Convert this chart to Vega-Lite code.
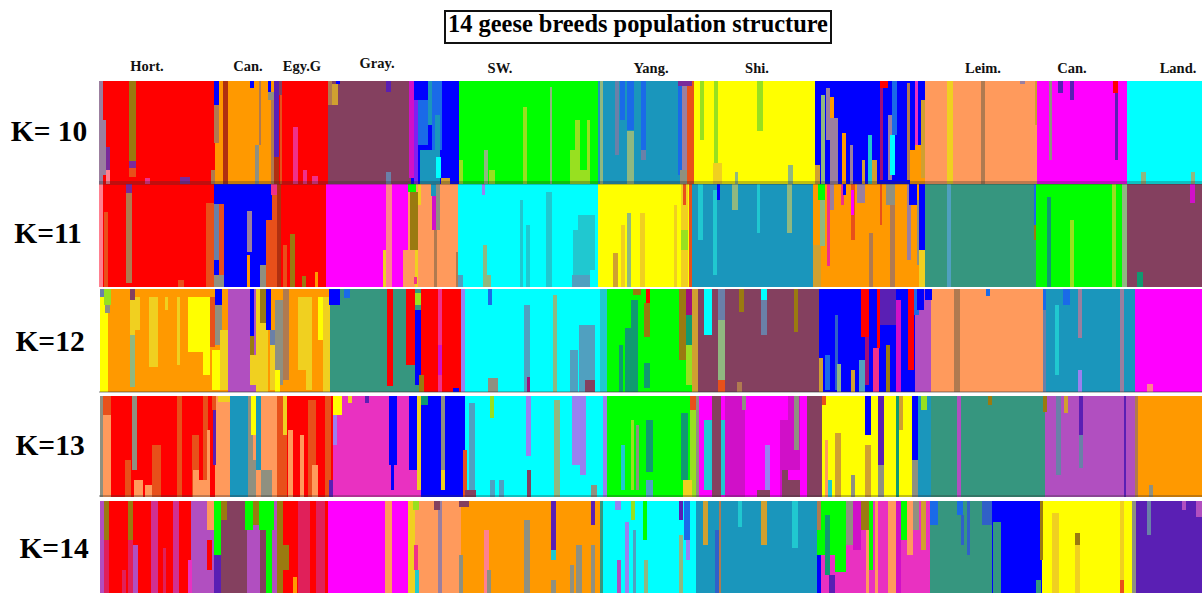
{"$schema":"https://vega.github.io/schema/vega-lite/v6.json","width":1202,"height":593,"padding":0,"autosize":{"type":"none"},"background":"white","config":{"view":{"stroke":null}},
"datasets":{"bars":[
{"K":10,"x":99,"x2":103,"y":81,"y2":184,"c":"gmv"},{"K":10,"x":103,"x2":215,"y":81,"y2":184,"c":"red"},{"K":10,"x":215,"x2":274,"y":81,"y2":184,"c":"org"},{"K":10,"x":274,"x2":328,"y":81,"y2":184,"c":"red"},{"K":10,"x":328,"x2":411,"y":81,"y2":184,"c":"mau"},{"K":10,"x":411,"x2":459,"y":81,"y2":184,"c":"blu"},{"K":10,"x":459,"x2":598,"y":81,"y2":184,"c":"grn"},{"K":10,"x":598,"x2":692,"y":81,"y2":184,"c":"stl"},{"K":10,"x":692,"x2":815,"y":81,"y2":184,"c":"yel"},{"K":10,"x":815,"x2":925,"y":81,"y2":184,"c":"blu"},{"K":10,"x":925,"x2":1037,"y":81,"y2":184,"c":"pch"},{"K":10,"x":1037,"x2":1127,"y":81,"y2":184,"c":"mag"},{"K":10,"x":1127,"x2":1202,"y":81,"y2":184,"c":"cya"},
{"K":10,"x":129,"x2":136,"y":81,"y2":161,"c":"olv"},{"K":10,"x":129,"x2":136,"y":161,"y2":168,"c":"prp"},{"K":10,"x":129,"x2":136,"y":168,"y2":177,"c":"dor"},{"K":10,"x":103,"x2":106,"y":120,"y2":175,"c":"gmv"},{"K":10,"x":106,"x2":110,"y":147,"y2":170,"c":"prp"},{"K":10,"x":106,"x2":110,"y":170,"y2":184,"c":"sal"},{"K":10,"x":145,"x2":150,"y":178,"y2":184,"c":"hpk"},{"K":10,"x":180,"x2":190,"y":177,"y2":184,"c":"prp"},
{"K":10,"x":214,"x2":219,"y":81,"y2":105,"c":"blu"},{"K":10,"x":214,"x2":219,"y":105,"y2":143,"c":"brn"},{"K":10,"x":211,"x2":215,"y":170,"y2":184,"c":"brn"},{"K":10,"x":223,"x2":228,"y":81,"y2":184,"c":"dkr"},{"K":10,"x":250,"x2":254,"y":81,"y2":88,"c":"blu"},{"K":10,"x":255,"x2":259,"y":145,"y2":184,"c":"gry"},{"K":10,"x":259,"x2":261,"y":81,"y2":145,"c":"brn"},{"K":10,"x":268,"x2":271,"y":81,"y2":92,"c":"blu"},{"K":10,"x":268,"x2":274,"y":92,"y2":100,"c":"gry"},{"K":10,"x":271,"x2":274,"y":100,"y2":184,"c":"brn"},{"K":10,"x":274,"x2":279,"y":81,"y2":157,"c":"ind"},{"K":10,"x":274,"x2":279,"y":157,"y2":184,"c":"dkr"},{"K":10,"x":279,"x2":282,"y":81,"y2":95,"c":"mau"},{"K":10,"x":280,"x2":282,"y":95,"y2":184,"c":"dor"},{"K":10,"x":293,"x2":298,"y":127,"y2":184,"c":"hpk"},{"K":10,"x":303,"x2":307,"y":170,"y2":184,"c":"hpk"},{"K":10,"x":312,"x2":318,"y":176,"y2":184,"c":"hpk"},
{"K":10,"x":328,"x2":332,"y":81,"y2":105,"c":"brn"},{"K":10,"x":332,"x2":338,"y":84,"y2":105,"c":"gol"},{"K":10,"x":336,"x2":340,"y":81,"y2":84,"c":"blu"},{"K":10,"x":386,"x2":391,"y":81,"y2":92,"c":"ind"},{"K":10,"x":386,"x2":391,"y":172,"y2":184,"c":"slt"},{"K":10,"x":409,"x2":414,"y":81,"y2":178,"c":"dmg"},{"K":10,"x":414,"x2":418,"y":100,"y2":184,"c":"plb"},{"K":10,"x":418,"x2":428,"y":100,"y2":145,"c":"ldb"},{"K":10,"x":428,"x2":432,"y":81,"y2":125,"c":"stl"},{"K":10,"x":432,"x2":442,"y":81,"y2":150,"c":"ldb"},{"K":10,"x":420,"x2":435,"y":150,"y2":184,"c":"stl"},{"K":10,"x":435,"x2":440,"y":115,"y2":184,"c":"stl"},{"K":10,"x":436,"x2":441,"y":157,"y2":178,"c":"cya"},{"K":10,"x":441,"x2":450,"y":178,"y2":184,"c":"gol"},
{"K":10,"x":459,"x2":463,"y":160,"y2":184,"c":"lim"},{"K":10,"x":484,"x2":488,"y":150,"y2":184,"c":"sag"},{"K":10,"x":489,"x2":495,"y":170,"y2":184,"c":"lim"},{"K":10,"x":523,"x2":527,"y":107,"y2":184,"c":"lim"},{"K":10,"x":550,"x2":552,"y":87,"y2":184,"c":"sag"},{"K":10,"x":570,"x2":575,"y":150,"y2":184,"c":"lim"},{"K":10,"x":575,"x2":580,"y":120,"y2":184,"c":"lim"},{"K":10,"x":587,"x2":590,"y":120,"y2":184,"c":"lim"},{"K":10,"x":580,"x2":587,"y":170,"y2":184,"c":"lim"},
{"K":10,"x":600,"x2":603,"y":81,"y2":184,"c":"sag"},{"K":10,"x":615,"x2":619,"y":81,"y2":155,"c":"slt"},{"K":10,"x":620,"x2":625,"y":81,"y2":120,"c":"ldb"},{"K":10,"x":627,"x2":634,"y":81,"y2":130,"c":"ldb"},{"K":10,"x":627,"x2":634,"y":131,"y2":184,"c":"sag"},{"K":10,"x":641,"x2":646,"y":81,"y2":150,"c":"ldb"},{"K":10,"x":641,"x2":646,"y":150,"y2":160,"c":"slt"},{"K":10,"x":678,"x2":683,"y":81,"y2":175,"c":"ldb"},{"K":10,"x":682,"x2":687,"y":85,"y2":170,"c":"gmv"},{"K":10,"x":680,"x2":687,"y":170,"y2":184,"c":"gry"},{"K":10,"x":687,"x2":694,"y":81,"y2":184,"c":"dor"},{"K":10,"x":678,"x2":692,"y":81,"y2":86,"c":"prp"},
{"K":10,"x":700,"x2":704,"y":81,"y2":140,"c":"lim"},{"K":10,"x":714,"x2":718,"y":81,"y2":170,"c":"lim"},{"K":10,"x":713,"x2":722,"y":163,"y2":184,"c":"gld"},{"K":10,"x":757,"x2":763,"y":81,"y2":131,"c":"lim"},{"K":10,"x":788,"x2":793,"y":165,"y2":184,"c":"sag"},{"K":10,"x":735,"x2":738,"y":172,"y2":184,"c":"sag"},
{"K":10,"x":815,"x2":820,"y":165,"y2":184,"c":"gol"},{"K":10,"x":821,"x2":825,"y":95,"y2":184,"c":"sag"},{"K":10,"x":826,"x2":830,"y":88,"y2":140,"c":"gmv"},{"K":10,"x":830,"x2":834,"y":97,"y2":120,"c":"org"},{"K":10,"x":830,"x2":838,"y":118,"y2":184,"c":"gmv"},{"K":10,"x":842,"x2":846,"y":133,"y2":184,"c":"org"},{"K":10,"x":850,"x2":853,"y":145,"y2":184,"c":"gmv"},{"K":10,"x":862,"x2":865,"y":160,"y2":184,"c":"gol"},{"K":10,"x":868,"x2":872,"y":135,"y2":184,"c":"tcy"},{"K":10,"x":872,"x2":877,"y":160,"y2":184,"c":"gol"},{"K":10,"x":880,"x2":883,"y":81,"y2":180,"c":"crm"},{"K":10,"x":880,"x2":888,"y":81,"y2":88,"c":"red"},{"K":10,"x":888,"x2":892,"y":115,"y2":180,"c":"gmv"},{"K":10,"x":892,"x2":897,"y":81,"y2":135,"c":"ldb"},{"K":10,"x":890,"x2":895,"y":135,"y2":175,"c":"cya"},{"K":10,"x":907,"x2":910,"y":83,"y2":180,"c":"brn"},{"K":10,"x":910,"x2":915,"y":150,"y2":184,"c":"org"},{"K":10,"x":915,"x2":918,"y":81,"y2":145,"c":"pnk"},{"K":10,"x":915,"x2":925,"y":145,"y2":184,"c":"org"},{"K":10,"x":921,"x2":925,"y":100,"y2":178,"c":"gol"},
{"K":10,"x":947,"x2":953,"y":81,"y2":184,"c":"gld"},{"K":10,"x":981,"x2":985,"y":81,"y2":184,"c":"brn"},{"K":10,"x":1020,"x2":1025,"y":81,"y2":84,"c":"gmv"},{"K":10,"x":1035,"x2":1037,"y":81,"y2":125,"c":"gol"},{"K":10,"x":1049,"x2":1052,"y":81,"y2":160,"c":"gry"},{"K":10,"x":1058,"x2":1063,"y":81,"y2":93,"c":"ind"},{"K":10,"x":1070,"x2":1074,"y":81,"y2":100,"c":"ind"},{"K":10,"x":1113,"x2":1118,"y":81,"y2":93,"c":"red"},{"K":10,"x":1115,"x2":1118,"y":93,"y2":160,"c":"ind"},{"K":10,"x":1141,"x2":1146,"y":172,"y2":184,"c":"sag"},{"K":10,"x":1191,"x2":1195,"y":172,"y2":184,"c":"sag"},
{"K":11,"x":99,"x2":103,"y":184,"y2":287,"c":"sal"},{"K":11,"x":103,"x2":214,"y":184,"y2":287,"c":"red"},{"K":11,"x":214,"x2":272,"y":184,"y2":287,"c":"blu"},{"K":11,"x":272,"x2":326,"y":184,"y2":287,"c":"red"},{"K":11,"x":326,"x2":408,"y":184,"y2":287,"c":"mag"},{"K":11,"x":408,"x2":458,"y":184,"y2":287,"c":"pch"},{"K":11,"x":458,"x2":598,"y":184,"y2":287,"c":"cya"},{"K":11,"x":598,"x2":690,"y":184,"y2":287,"c":"yel"},{"K":11,"x":690,"x2":813,"y":184,"y2":287,"c":"stl"},{"K":11,"x":813,"x2":925,"y":184,"y2":287,"c":"org"},{"K":11,"x":925,"x2":1036,"y":184,"y2":287,"c":"sea"},{"K":11,"x":1036,"x2":1127,"y":184,"y2":287,"c":"grn"},{"K":11,"x":1127,"x2":1202,"y":184,"y2":287,"c":"mau"},
{"K":11,"x":104,"x2":108,"y":212,"y2":287,"c":"dor"},{"K":11,"x":126,"x2":132,"y":184,"y2":193,"c":"prp"},{"K":11,"x":126,"x2":132,"y":193,"y2":283,"c":"brn"},{"K":11,"x":178,"x2":184,"y":280,"y2":287,"c":"dor"},{"K":11,"x":206,"x2":214,"y":203,"y2":287,"c":"dor"},{"K":11,"x":214,"x2":219,"y":204,"y2":260,"c":"slt"},{"K":11,"x":219,"x2":224,"y":204,"y2":287,"c":"dor"},{"K":11,"x":214,"x2":224,"y":275,"y2":287,"c":"gry"},{"K":11,"x":247,"x2":252,"y":211,"y2":252,"c":"gmv"},{"K":11,"x":247,"x2":250,"y":255,"y2":287,"c":"org"},{"K":11,"x":260,"x2":266,"y":265,"y2":287,"c":"gry"},{"K":11,"x":266,"x2":272,"y":220,"y2":287,"c":"dor"},{"K":11,"x":271,"x2":277,"y":184,"y2":195,"c":"hpk"},{"K":11,"x":272,"x2":277,"y":195,"y2":287,"c":"dor"},{"K":11,"x":277,"x2":281,"y":184,"y2":287,"c":"dkr"},{"K":11,"x":290,"x2":295,"y":234,"y2":287,"c":"olv"},{"K":11,"x":283,"x2":287,"y":245,"y2":287,"c":"dor"},{"K":11,"x":302,"x2":306,"y":276,"y2":287,"c":"olv"},{"K":11,"x":315,"x2":318,"y":272,"y2":287,"c":"org"},
{"K":11,"x":383,"x2":386,"y":250,"y2":287,"c":"gld"},{"K":11,"x":386,"x2":392,"y":184,"y2":287,"c":"sal"},{"K":11,"x":403,"x2":408,"y":250,"y2":287,"c":"pch"},{"K":11,"x":408,"x2":416,"y":184,"y2":192,"c":"grn"},{"K":11,"x":410,"x2":418,"y":192,"y2":250,"c":"olv"},{"K":11,"x":415,"x2":418,"y":250,"y2":287,"c":"gld"},{"K":11,"x":414,"x2":417,"y":277,"y2":284,"c":"hpk"},{"K":11,"x":418,"x2":421,"y":184,"y2":205,"c":"gld"},{"K":11,"x":431,"x2":436,"y":184,"y2":196,"c":"stl"},{"K":11,"x":432,"x2":436,"y":196,"y2":230,"c":"dmg"},{"K":11,"x":436,"x2":440,"y":184,"y2":230,"c":"gry"},{"K":11,"x":434,"x2":437,"y":230,"y2":287,"c":"brn"},{"K":11,"x":456,"x2":458,"y":252,"y2":287,"c":"brn"},
{"K":11,"x":458,"x2":463,"y":275,"y2":287,"c":"tgr"},{"K":11,"x":482,"x2":485,"y":184,"y2":195,"c":"lav"},{"K":11,"x":483,"x2":487,"y":245,"y2":287,"c":"sag"},{"K":11,"x":487,"x2":491,"y":275,"y2":287,"c":"sag"},{"K":11,"x":520,"x2":523,"y":200,"y2":287,"c":"tcy"},{"K":11,"x":526,"x2":530,"y":225,"y2":287,"c":"tcy"},{"K":11,"x":546,"x2":552,"y":192,"y2":287,"c":"tcy"},{"K":11,"x":573,"x2":578,"y":230,"y2":287,"c":"tcy"},{"K":11,"x":578,"x2":590,"y":215,"y2":287,"c":"tcy"},{"K":11,"x":590,"x2":595,"y":215,"y2":270,"c":"tcy"},{"K":11,"x":572,"x2":590,"y":275,"y2":287,"c":"tgr"},
{"K":11,"x":613,"x2":618,"y":253,"y2":287,"c":"gol"},{"K":11,"x":621,"x2":625,"y":225,"y2":287,"c":"gld"},{"K":11,"x":627,"x2":631,"y":213,"y2":287,"c":"sag"},{"K":11,"x":640,"x2":645,"y":213,"y2":287,"c":"gld"},{"K":11,"x":674,"x2":677,"y":205,"y2":287,"c":"gld"},{"K":11,"x":681,"x2":688,"y":184,"y2":287,"c":"gld"},{"K":11,"x":683,"x2":686,"y":184,"y2":205,"c":"dor"},{"K":11,"x":681,"x2":688,"y":230,"y2":250,"c":"lim"},{"K":11,"x":689,"x2":692,"y":184,"y2":287,"c":"dor"},
{"K":11,"x":698,"x2":703,"y":184,"y2":240,"c":"tcy"},{"K":11,"x":713,"x2":717,"y":190,"y2":275,"c":"tcy"},{"K":11,"x":717,"x2":720,"y":184,"y2":200,"c":"blu"},{"K":11,"x":732,"x2":738,"y":184,"y2":210,"c":"sag"},{"K":11,"x":757,"x2":760,"y":184,"y2":233,"c":"tcy"},{"K":11,"x":787,"x2":792,"y":184,"y2":233,"c":"sag"},
{"K":11,"x":813,"x2":821,"y":245,"y2":287,"c":"gol"},{"K":11,"x":818,"x2":825,"y":184,"y2":200,"c":"grn"},{"K":11,"x":820,"x2":825,"y":200,"y2":246,"c":"sag"},{"K":11,"x":827,"x2":830,"y":184,"y2":266,"c":"hpk"},{"K":11,"x":830,"x2":834,"y":184,"y2":210,"c":"gmv"},{"K":11,"x":841,"x2":844,"y":184,"y2":205,"c":"hpk"},{"K":11,"x":843,"x2":846,"y":184,"y2":195,"c":"blu"},{"K":11,"x":851,"x2":855,"y":184,"y2":240,"c":"dor"},{"K":11,"x":851,"x2":854,"y":190,"y2":215,"c":"mag"},{"K":11,"x":857,"x2":865,"y":184,"y2":203,"c":"gmv"},{"K":11,"x":869,"x2":873,"y":233,"y2":287,"c":"brn"},{"K":11,"x":880,"x2":882,"y":184,"y2":225,"c":"dor"},{"K":11,"x":886,"x2":895,"y":184,"y2":205,"c":"gry"},{"K":11,"x":890,"x2":895,"y":205,"y2":287,"c":"brn"},{"K":11,"x":907,"x2":911,"y":184,"y2":260,"c":"gmv"},{"K":11,"x":909,"x2":917,"y":184,"y2":205,"c":"blu"},{"K":11,"x":917,"x2":921,"y":200,"y2":265,"c":"gry"},{"K":11,"x":919,"x2":925,"y":184,"y2":250,"c":"blu"},{"K":11,"x":919,"x2":925,"y":250,"y2":287,"c":"gld"},
{"K":11,"x":947,"x2":951,"y":184,"y2":287,"c":"tgr"},{"K":11,"x":1034,"x2":1036,"y":184,"y2":225,"c":"ldb"},{"K":11,"x":1034,"x2":1036,"y":225,"y2":240,"c":"olv"},{"K":11,"x":1047,"x2":1051,"y":197,"y2":287,"c":"sgn"},{"K":11,"x":1070,"x2":1074,"y":220,"y2":287,"c":"lim"},{"K":11,"x":1112,"x2":1116,"y":184,"y2":287,"c":"lim"},{"K":11,"x":1122,"x2":1127,"y":184,"y2":287,"c":"sag"},{"K":11,"x":1137,"x2":1143,"y":272,"y2":287,"c":"sgn"},{"K":11,"x":1190,"x2":1195,"y":184,"y2":203,"c":"dmg"},
{"K":12,"x":100,"x2":108,"y":289,"y2":392,"c":"yel"},{"K":12,"x":108,"x2":228,"y":289,"y2":392,"c":"org"},{"K":12,"x":228,"x2":258,"y":289,"y2":392,"c":"pur"},{"K":12,"x":258,"x2":330,"y":289,"y2":392,"c":"org"},{"K":12,"x":330,"x2":421,"y":289,"y2":392,"c":"sea"},{"K":12,"x":421,"x2":461,"y":289,"y2":392,"c":"red"},{"K":12,"x":461,"x2":600,"y":289,"y2":392,"c":"cya"},{"K":12,"x":600,"x2":607,"y":289,"y2":392,"c":"tcy"},{"K":12,"x":607,"x2":692,"y":289,"y2":392,"c":"grn"},{"K":12,"x":692,"x2":698,"y":289,"y2":392,"c":"gol"},{"K":12,"x":698,"x2":819,"y":289,"y2":392,"c":"mau"},{"K":12,"x":819,"x2":915,"y":289,"y2":392,"c":"blu"},{"K":12,"x":915,"x2":931,"y":289,"y2":392,"c":"pur"},{"K":12,"x":931,"x2":1043,"y":289,"y2":392,"c":"pch"},{"K":12,"x":1043,"x2":1135,"y":289,"y2":392,"c":"stl"},{"K":12,"x":1135,"x2":1202,"y":289,"y2":392,"c":"mag"},
{"K":12,"x":100,"x2":105,"y":289,"y2":297,"c":"slt"},{"K":12,"x":104,"x2":111,"y":289,"y2":305,"c":"lim"},{"K":12,"x":105,"x2":110,"y":305,"y2":313,"c":"gry"},{"K":12,"x":130,"x2":135,"y":289,"y2":300,"c":"mau"},{"K":12,"x":130,"x2":135,"y":300,"y2":335,"c":"gld"},{"K":12,"x":130,"x2":135,"y":335,"y2":387,"c":"sag"},{"K":12,"x":135,"x2":140,"y":297,"y2":330,"c":"gld"},{"K":12,"x":149,"x2":158,"y":297,"y2":367,"c":"gld"},{"K":12,"x":165,"x2":168,"y":297,"y2":310,"c":"gld"},{"K":12,"x":177,"x2":180,"y":297,"y2":365,"c":"gld"},{"K":12,"x":188,"x2":203,"y":297,"y2":352,"c":"yel"},{"K":12,"x":203,"x2":210,"y":297,"y2":375,"c":"yel"},{"K":12,"x":210,"x2":215,"y":297,"y2":347,"c":"dor"},{"K":12,"x":215,"x2":222,"y":289,"y2":305,"c":"blu"},{"K":12,"x":215,"x2":222,"y":305,"y2":345,"c":"gry"},{"K":12,"x":212,"x2":221,"y":350,"y2":390,"c":"yel"},{"K":12,"x":220,"x2":228,"y":330,"y2":390,"c":"gld"},
{"K":12,"x":250,"x2":254,"y":289,"y2":336,"c":"blu"},{"K":12,"x":250,"x2":254,"y":336,"y2":355,"c":"olv"},{"K":12,"x":250,"x2":256,"y":355,"y2":385,"c":"gld"},{"K":12,"x":256,"x2":260,"y":289,"y2":392,"c":"gld"},{"K":12,"x":260,"x2":268,"y":289,"y2":323,"c":"olv"},{"K":12,"x":260,"x2":268,"y":323,"y2":392,"c":"gld"},{"K":12,"x":266,"x2":271,"y":289,"y2":330,"c":"blu"},{"K":12,"x":270,"x2":275,"y":330,"y2":345,"c":"slt"},{"K":12,"x":270,"x2":275,"y":345,"y2":390,"c":"gld"},{"K":12,"x":275,"x2":283,"y":300,"y2":385,"c":"gry"},{"K":12,"x":275,"x2":280,"y":370,"y2":392,"c":"yel"},{"K":12,"x":283,"x2":289,"y":289,"y2":380,"c":"brn"},{"K":12,"x":298,"x2":306,"y":297,"y2":370,"c":"gld"},{"K":12,"x":306,"x2":312,"y":297,"y2":390,"c":"gld"},{"K":12,"x":318,"x2":323,"y":297,"y2":340,"c":"yel"},{"K":12,"x":323,"x2":330,"y":297,"y2":392,"c":"gld"},
{"K":12,"x":329,"x2":340,"y":289,"y2":305,"c":"blu"},{"K":12,"x":344,"x2":350,"y":289,"y2":298,"c":"ldb"},{"K":12,"x":387,"x2":393,"y":289,"y2":386,"c":"red"},{"K":12,"x":406,"x2":415,"y":289,"y2":365,"c":"red"},{"K":12,"x":415,"x2":421,"y":293,"y2":305,"c":"lim"},{"K":12,"x":415,"x2":421,"y":310,"y2":385,"c":"blu"},{"K":12,"x":419,"x2":424,"y":375,"y2":392,"c":"olv"},{"K":12,"x":438,"x2":442,"y":289,"y2":392,"c":"hpk"},{"K":12,"x":438,"x2":442,"y":345,"y2":375,"c":"dmg"},{"K":12,"x":453,"x2":459,"y":388,"y2":392,"c":"blu"},{"K":12,"x":461,"x2":465,"y":289,"y2":392,"c":"lav"},
{"K":12,"x":488,"x2":492,"y":289,"y2":305,"c":"ldb"},{"K":12,"x":488,"x2":498,"y":378,"y2":392,"c":"gry"},{"K":12,"x":524,"x2":530,"y":305,"y2":392,"c":"tgr"},{"K":12,"x":527,"x2":530,"y":377,"y2":392,"c":"crm"},{"K":12,"x":553,"x2":557,"y":295,"y2":392,"c":"sag"},{"K":12,"x":570,"x2":578,"y":350,"y2":392,"c":"tgr"},{"K":12,"x":579,"x2":595,"y":325,"y2":392,"c":"tgr"},{"K":12,"x":585,"x2":595,"y":380,"y2":392,"c":"mau"},
{"K":12,"x":633,"x2":641,"y":289,"y2":295,"c":"olv"},{"K":12,"x":646,"x2":650,"y":289,"y2":303,"c":"red"},{"K":12,"x":644,"x2":650,"y":303,"y2":337,"c":"olv"},{"K":12,"x":631,"x2":638,"y":300,"y2":392,"c":"sgn"},{"K":12,"x":625,"x2":631,"y":328,"y2":392,"c":"sgn"},{"K":12,"x":619,"x2":623,"y":345,"y2":392,"c":"sgn"},{"K":12,"x":644,"x2":650,"y":363,"y2":388,"c":"sgn"},{"K":12,"x":679,"x2":686,"y":289,"y2":360,"c":"olv"},{"K":12,"x":686,"x2":692,"y":289,"y2":315,"c":"crm"},{"K":12,"x":686,"x2":692,"y":315,"y2":345,"c":"sgn"},{"K":12,"x":686,"x2":692,"y":345,"y2":385,"c":"lim"},
{"K":12,"x":704,"x2":712,"y":289,"y2":335,"c":"cya"},{"K":12,"x":718,"x2":725,"y":289,"y2":320,"c":"slt"},{"K":12,"x":718,"x2":725,"y":320,"y2":380,"c":"sag"},{"K":12,"x":718,"x2":725,"y":380,"y2":392,"c":"dor"},{"K":12,"x":739,"x2":744,"y":289,"y2":312,"c":"olv"},{"K":12,"x":761,"x2":767,"y":289,"y2":300,"c":"cya"},{"K":12,"x":761,"x2":767,"y":300,"y2":335,"c":"slt"},{"K":12,"x":794,"x2":798,"y":289,"y2":332,"c":"olv"},{"K":12,"x":737,"x2":742,"y":382,"y2":392,"c":"brn"},
{"K":12,"x":819,"x2":823,"y":358,"y2":392,"c":"gol"},{"K":12,"x":825,"x2":830,"y":355,"y2":390,"c":"ldb"},{"K":12,"x":835,"x2":838,"y":315,"y2":390,"c":"bl2"},{"K":12,"x":837,"x2":841,"y":364,"y2":392,"c":"sag"},{"K":12,"x":851,"x2":855,"y":370,"y2":392,"c":"gol"},{"K":12,"x":861,"x2":869,"y":289,"y2":337,"c":"red"},{"K":12,"x":865,"x2":869,"y":337,"y2":385,"c":"crm"},{"K":12,"x":859,"x2":865,"y":360,"y2":392,"c":"tgr"},{"K":12,"x":873,"x2":879,"y":348,"y2":392,"c":"hpk"},{"K":12,"x":877,"x2":880,"y":289,"y2":348,"c":"red"},{"K":12,"x":880,"x2":896,"y":289,"y2":325,"c":"ind"},{"K":12,"x":886,"x2":890,"y":345,"y2":392,"c":"olv"},{"K":12,"x":896,"x2":901,"y":300,"y2":392,"c":"dmg"},{"K":12,"x":908,"x2":914,"y":289,"y2":370,"c":"red"},{"K":12,"x":914,"x2":919,"y":289,"y2":315,"c":"ldb"},{"K":12,"x":917,"x2":924,"y":289,"y2":310,"c":"blu"},{"K":12,"x":925,"x2":932,"y":289,"y2":300,"c":"blu"},
{"K":12,"x":954,"x2":960,"y":289,"y2":392,"c":"brn"},{"K":12,"x":986,"x2":990,"y":289,"y2":296,"c":"ldb"},{"K":12,"x":1043,"x2":1046,"y":289,"y2":310,"c":"ldb"},{"K":12,"x":1043,"x2":1046,"y":310,"y2":392,"c":"slt"},{"K":12,"x":1055,"x2":1059,"y":305,"y2":375,"c":"tcy"},{"K":12,"x":1063,"x2":1070,"y":289,"y2":305,"c":"ldb"},{"K":12,"x":1078,"x2":1082,"y":289,"y2":338,"c":"gmv"},{"K":12,"x":1078,"x2":1082,"y":370,"y2":392,"c":"lav"},{"K":12,"x":1120,"x2":1124,"y":289,"y2":392,"c":"gmv"},{"K":12,"x":1147,"x2":1153,"y":384,"y2":392,"c":"sal"},
{"K":13,"x":100,"x2":104,"y":396,"y2":497,"c":"gry"},{"K":13,"x":104,"x2":215,"y":396,"y2":497,"c":"red"},{"K":13,"x":215,"x2":230,"y":396,"y2":497,"c":"pch"},{"K":13,"x":230,"x2":248,"y":396,"y2":497,"c":"stl"},{"K":13,"x":248,"x2":285,"y":396,"y2":497,"c":"pch"},{"K":13,"x":285,"x2":333,"y":396,"y2":497,"c":"red"},{"K":13,"x":333,"x2":421,"y":396,"y2":497,"c":"pnk"},{"K":13,"x":421,"x2":465,"y":396,"y2":497,"c":"blu"},{"K":13,"x":465,"x2":603,"y":396,"y2":497,"c":"cya"},{"K":13,"x":603,"x2":607,"y":396,"y2":497,"c":"lav"},{"K":13,"x":607,"x2":690,"y":396,"y2":497,"c":"grn"},{"K":13,"x":690,"x2":699,"y":396,"y2":497,"c":"lim"},{"K":13,"x":699,"x2":822,"y":396,"y2":497,"c":"mag"},{"K":13,"x":822,"x2":918,"y":396,"y2":497,"c":"yel"},{"K":13,"x":918,"x2":931,"y":396,"y2":497,"c":"stl"},{"K":13,"x":931,"x2":1045,"y":396,"y2":497,"c":"sea"},{"K":13,"x":1045,"x2":1135,"y":396,"y2":497,"c":"pur"},{"K":13,"x":1135,"x2":1202,"y":396,"y2":497,"c":"org"},
{"K":13,"x":103,"x2":111,"y":396,"y2":415,"c":"dor"},{"K":13,"x":103,"x2":111,"y":415,"y2":497,"c":"pch"},{"K":13,"x":125,"x2":131,"y":460,"y2":497,"c":"dor"},{"K":13,"x":132,"x2":137,"y":396,"y2":470,"c":"gry"},{"K":13,"x":134,"x2":143,"y":480,"y2":497,"c":"pch"},{"K":13,"x":145,"x2":152,"y":485,"y2":497,"c":"pch"},{"K":13,"x":152,"x2":161,"y":445,"y2":497,"c":"dor"},{"K":13,"x":177,"x2":182,"y":396,"y2":497,"c":"dor"},{"K":13,"x":192,"x2":199,"y":435,"y2":497,"c":"dor"},{"K":13,"x":193,"x2":199,"y":470,"y2":497,"c":"pch"},{"K":13,"x":203,"x2":208,"y":396,"y2":480,"c":"dor"},{"K":13,"x":207,"x2":210,"y":430,"y2":497,"c":"pch"},{"K":13,"x":193,"x2":210,"y":480,"y2":497,"c":"pch"},{"K":13,"x":212,"x2":216,"y":396,"y2":410,"c":"dor"},{"K":13,"x":213,"x2":216,"y":410,"y2":465,"c":"ind"},{"K":13,"x":218,"x2":230,"y":396,"y2":402,"c":"gld"},
{"K":13,"x":248,"x2":253,"y":396,"y2":465,"c":"gry"},{"K":13,"x":251,"x2":256,"y":396,"y2":435,"c":"yel"},{"K":13,"x":248,"x2":256,"y":460,"y2":497,"c":"gry"},{"K":13,"x":256,"x2":261,"y":396,"y2":470,"c":"stl"},{"K":13,"x":261,"x2":272,"y":470,"y2":497,"c":"gry"},{"K":13,"x":277,"x2":287,"y":396,"y2":497,"c":"dor"},{"K":13,"x":283,"x2":287,"y":396,"y2":435,"c":"gld"},{"K":13,"x":288,"x2":293,"y":430,"y2":497,"c":"pch"},{"K":13,"x":300,"x2":304,"y":435,"y2":497,"c":"pch"},{"K":13,"x":308,"x2":316,"y":400,"y2":497,"c":"dor"},{"K":13,"x":312,"x2":318,"y":465,"y2":497,"c":"pch"},{"K":13,"x":325,"x2":331,"y":396,"y2":497,"c":"dor"},{"K":13,"x":329,"x2":333,"y":480,"y2":497,"c":"ind"},
{"K":13,"x":333,"x2":342,"y":396,"y2":415,"c":"yel"},{"K":13,"x":333,"x2":337,"y":415,"y2":445,"c":"lav"},{"K":13,"x":348,"x2":352,"y":396,"y2":403,"c":"gld"},{"K":13,"x":365,"x2":369,"y":396,"y2":403,"c":"ind"},{"K":13,"x":389,"x2":397,"y":396,"y2":465,"c":"blu"},{"K":13,"x":391,"x2":394,"y":465,"y2":490,"c":"blu"},{"K":13,"x":409,"x2":417,"y":396,"y2":470,"c":"blu"},{"K":13,"x":417,"x2":421,"y":396,"y2":490,"c":"gld"},{"K":13,"x":421,"x2":428,"y":396,"y2":405,"c":"sgn"},{"K":13,"x":441,"x2":445,"y":396,"y2":470,"c":"gry"},{"K":13,"x":441,"x2":445,"y":470,"y2":490,"c":"gld"},{"K":13,"x":463,"x2":467,"y":450,"y2":497,"c":"dor"},{"K":13,"x":465,"x2":476,"y":490,"y2":497,"c":"mau"},{"K":13,"x":469,"x2":475,"y":403,"y2":490,"c":"tgr"},
{"K":13,"x":490,"x2":494,"y":396,"y2":418,"c":"lim"},{"K":13,"x":490,"x2":495,"y":480,"y2":497,"c":"tgr"},{"K":13,"x":499,"x2":504,"y":480,"y2":497,"c":"tgr"},{"K":13,"x":526,"x2":531,"y":396,"y2":456,"c":"lav"},{"K":13,"x":527,"x2":531,"y":470,"y2":497,"c":"mau"},{"K":13,"x":554,"x2":560,"y":400,"y2":497,"c":"sag"},{"K":13,"x":572,"x2":580,"y":396,"y2":465,"c":"lav"},{"K":13,"x":580,"x2":586,"y":396,"y2":475,"c":"lav"},{"K":13,"x":591,"x2":597,"y":485,"y2":497,"c":"gry"},
{"K":13,"x":631,"x2":634,"y":420,"y2":490,"c":"lim"},{"K":13,"x":636,"x2":639,"y":425,"y2":490,"c":"gry"},{"K":13,"x":646,"x2":653,"y":420,"y2":472,"c":"sgn"},{"K":13,"x":646,"x2":653,"y":480,"y2":497,"c":"tgr"},{"K":13,"x":621,"x2":625,"y":445,"y2":490,"c":"tcy"},{"K":13,"x":681,"x2":688,"y":413,"y2":480,"c":"sgn"},{"K":13,"x":683,"x2":692,"y":480,"y2":497,"c":"gld"},{"K":13,"x":690,"x2":696,"y":396,"y2":410,"c":"dor"},{"K":13,"x":696,"x2":699,"y":396,"y2":497,"c":"gry"},
{"K":13,"x":704,"x2":712,"y":420,"y2":490,"c":"tcy"},{"K":13,"x":712,"x2":721,"y":396,"y2":497,"c":"mau"},{"K":13,"x":721,"x2":725,"y":420,"y2":495,"c":"tcy"},{"K":13,"x":725,"x2":745,"y":396,"y2":497,"c":"dmg"},{"K":13,"x":742,"x2":746,"y":396,"y2":410,"c":"gry"},{"K":13,"x":765,"x2":770,"y":445,"y2":490,"c":"lav"},{"K":13,"x":757,"x2":770,"y":490,"y2":497,"c":"mau"},{"K":13,"x":780,"x2":788,"y":420,"y2":497,"c":"dmg"},{"K":13,"x":782,"x2":788,"y":470,"y2":497,"c":"mau"},{"K":13,"x":788,"x2":800,"y":396,"y2":470,"c":"dmg"},{"K":13,"x":788,"x2":800,"y":480,"y2":497,"c":"mau"},{"K":13,"x":794,"x2":799,"y":396,"y2":450,"c":"gry"},{"K":13,"x":807,"x2":822,"y":396,"y2":497,"c":"mau"},
{"K":13,"x":822,"x2":826,"y":396,"y2":405,"c":"dor"},{"K":13,"x":835,"x2":841,"y":433,"y2":497,"c":"gol"},{"K":13,"x":825,"x2":828,"y":440,"y2":497,"c":"pch"},{"K":13,"x":828,"x2":832,"y":480,"y2":497,"c":"tcy"},{"K":13,"x":851,"x2":855,"y":475,"y2":497,"c":"gry"},{"K":13,"x":865,"x2":871,"y":396,"y2":435,"c":"blu"},{"K":13,"x":865,"x2":871,"y":445,"y2":497,"c":"gol"},{"K":13,"x":878,"x2":884,"y":396,"y2":465,"c":"ind"},{"K":13,"x":878,"x2":884,"y":465,"y2":497,"c":"gry"},{"K":13,"x":896,"x2":899,"y":396,"y2":497,"c":"sgn"},{"K":13,"x":899,"x2":903,"y":396,"y2":430,"c":"gol"},{"K":13,"x":912,"x2":918,"y":396,"y2":460,"c":"blu"},{"K":13,"x":912,"x2":918,"y":460,"y2":497,"c":"gry"},{"K":13,"x":921,"x2":927,"y":396,"y2":410,"c":"lim"},
{"K":13,"x":957,"x2":961,"y":396,"y2":497,"c":"pur"},{"K":13,"x":988,"x2":992,"y":396,"y2":405,"c":"olv"},{"K":13,"x":1043,"x2":1047,"y":396,"y2":412,"c":"olv"},{"K":13,"x":1056,"x2":1061,"y":396,"y2":475,"c":"slt"},{"K":13,"x":1064,"x2":1068,"y":396,"y2":413,"c":"gol"},{"K":13,"x":1079,"x2":1083,"y":396,"y2":435,"c":"ind"},{"K":13,"x":1079,"x2":1083,"y":435,"y2":468,"c":"slt"},{"K":13,"x":1124,"x2":1126,"y":396,"y2":497,"c":"ind"},{"K":13,"x":1135,"x2":1138,"y":396,"y2":497,"c":"brn"},{"K":13,"x":1149,"x2":1153,"y":485,"y2":497,"c":"gry"},
{"K":14,"x":100,"x2":104,"y":501,"y2":593,"c":"pur"},{"K":14,"x":104,"x2":191,"y":501,"y2":593,"c":"red"},{"K":14,"x":191,"x2":214,"y":501,"y2":593,"c":"pur"},{"K":14,"x":214,"x2":221,"y":501,"y2":593,"c":"dor"},{"K":14,"x":221,"x2":247,"y":501,"y2":593,"c":"mau"},{"K":14,"x":247,"x2":283,"y":501,"y2":593,"c":"pur"},{"K":14,"x":283,"x2":328,"y":501,"y2":593,"c":"red"},{"K":14,"x":328,"x2":408,"y":501,"y2":593,"c":"mag"},{"K":14,"x":408,"x2":461,"y":501,"y2":593,"c":"pch"},{"K":14,"x":461,"x2":600,"y":501,"y2":593,"c":"org"},{"K":14,"x":600,"x2":603,"y":501,"y2":593,"c":"sea"},{"K":14,"x":603,"x2":696,"y":501,"y2":593,"c":"cya"},{"K":14,"x":696,"x2":817,"y":501,"y2":593,"c":"stl"},{"K":14,"x":817,"x2":930,"y":501,"y2":593,"c":"pnk"},{"K":14,"x":930,"x2":992,"y":501,"y2":593,"c":"sea"},{"K":14,"x":992,"x2":1042,"y":501,"y2":593,"c":"blu"},{"K":14,"x":1042,"x2":1133,"y":501,"y2":593,"c":"yel"},{"K":14,"x":1133,"x2":1202,"y":501,"y2":593,"c":"ind"},
{"K":14,"x":104,"x2":109,"y":501,"y2":540,"c":"olv"},{"K":14,"x":104,"x2":109,"y":540,"y2":593,"c":"rdp"},{"K":14,"x":122,"x2":126,"y":570,"y2":593,"c":"rdp"},{"K":14,"x":128,"x2":133,"y":501,"y2":540,"c":"olv"},{"K":14,"x":128,"x2":133,"y":540,"y2":593,"c":"rdp"},{"K":14,"x":133,"x2":138,"y":545,"y2":593,"c":"pur"},{"K":14,"x":151,"x2":158,"y":501,"y2":593,"c":"dpn"},{"K":14,"x":163,"x2":166,"y":548,"y2":593,"c":"rdp"},{"K":14,"x":173,"x2":179,"y":501,"y2":593,"c":"dpn"},{"K":14,"x":188,"x2":192,"y":560,"y2":593,"c":"pnk"},{"K":14,"x":207,"x2":212,"y":540,"y2":570,"c":"red"},{"K":14,"x":207,"x2":215,"y":501,"y2":530,"c":"pch"},
{"K":14,"x":214,"x2":221,"y":501,"y2":555,"c":"grn"},{"K":14,"x":214,"x2":221,"y":555,"y2":593,"c":"ind"},{"K":14,"x":221,"x2":227,"y":501,"y2":520,"c":"olv"},{"K":14,"x":245,"x2":253,"y":501,"y2":530,"c":"grn"},{"K":14,"x":251,"x2":256,"y":530,"y2":593,"c":"pur"},{"K":14,"x":253,"x2":260,"y":501,"y2":525,"c":"olv"},{"K":14,"x":260,"x2":266,"y":530,"y2":593,"c":"mau"},{"K":14,"x":259,"x2":274,"y":501,"y2":530,"c":"grn"},{"K":14,"x":266,"x2":272,"y":530,"y2":593,"c":"grn"},{"K":14,"x":277,"x2":283,"y":501,"y2":593,"c":"olv"},{"K":14,"x":283,"x2":289,"y":545,"y2":570,"c":"olv"},{"K":14,"x":293,"x2":297,"y":577,"y2":593,"c":"org"},{"K":14,"x":298,"x2":310,"y":501,"y2":593,"c":"rdp"},{"K":14,"x":316,"x2":325,"y":501,"y2":593,"c":"rdp"},
{"K":14,"x":385,"x2":392,"y":501,"y2":593,"c":"pch"},{"K":14,"x":408,"x2":415,"y":501,"y2":593,"c":"gld"},{"K":14,"x":413,"x2":419,"y":501,"y2":510,"c":"lim"},{"K":14,"x":415,"x2":419,"y":570,"y2":593,"c":"tcy"},{"K":14,"x":414,"x2":418,"y":545,"y2":570,"c":"hpk"},{"K":14,"x":438,"x2":442,"y":501,"y2":593,"c":"gmv"},{"K":14,"x":434,"x2":440,"y":501,"y2":510,"c":"mau"},{"K":14,"x":459,"x2":469,"y":501,"y2":507,"c":"mau"},{"K":14,"x":459,"x2":463,"y":555,"y2":593,"c":"gry"},
{"K":14,"x":484,"x2":489,"y":530,"y2":593,"c":"sal"},{"K":14,"x":487,"x2":491,"y":570,"y2":593,"c":"gry"},{"K":14,"x":524,"x2":530,"y":520,"y2":593,"c":"gry"},{"K":14,"x":551,"x2":556,"y":501,"y2":550,"c":"ind"},{"K":14,"x":551,"x2":556,"y":550,"y2":560,"c":"tcy"},{"K":14,"x":551,"x2":556,"y":580,"y2":593,"c":"gry"},{"K":14,"x":570,"x2":574,"y":565,"y2":593,"c":"gry"},{"K":14,"x":576,"x2":582,"y":545,"y2":593,"c":"gry"},{"K":14,"x":591,"x2":595,"y":501,"y2":525,"c":"ind"},{"K":14,"x":591,"x2":595,"y":545,"y2":593,"c":"gry"},
{"K":14,"x":615,"x2":621,"y":501,"y2":510,"c":"lav"},{"K":14,"x":631,"x2":635,"y":501,"y2":520,"c":"lim"},{"K":14,"x":643,"x2":647,"y":501,"y2":540,"c":"grn"},{"K":14,"x":625,"x2":629,"y":522,"y2":593,"c":"lav"},{"K":14,"x":633,"x2":636,"y":530,"y2":593,"c":"tgr"},{"K":14,"x":617,"x2":621,"y":560,"y2":593,"c":"pur"},{"K":14,"x":644,"x2":648,"y":560,"y2":593,"c":"sag"},{"K":14,"x":679,"x2":683,"y":501,"y2":520,"c":"ind"},{"K":14,"x":679,"x2":683,"y":535,"y2":593,"c":"sag"},{"K":14,"x":684,"x2":690,"y":501,"y2":540,"c":"ldb"},{"K":14,"x":686,"x2":690,"y":540,"y2":560,"c":"lav"},
{"K":14,"x":703,"x2":708,"y":501,"y2":545,"c":"gol"},{"K":14,"x":715,"x2":719,"y":530,"y2":593,"c":"bl2"},{"K":14,"x":719,"x2":721,"y":501,"y2":593,"c":"brn"},{"K":14,"x":738,"x2":742,"y":501,"y2":527,"c":"tcy"},{"K":14,"x":761,"x2":767,"y":501,"y2":545,"c":"gol"},{"K":14,"x":792,"x2":798,"y":501,"y2":548,"c":"tcy"},
{"K":14,"x":817,"x2":835,"y":501,"y2":555,"c":"grn"},{"K":14,"x":817,"x2":821,"y":501,"y2":530,"c":"brn"},{"K":14,"x":817,"x2":821,"y":555,"y2":593,"c":"blu"},{"K":14,"x":825,"x2":830,"y":515,"y2":575,"c":"sgn"},{"K":14,"x":829,"x2":835,"y":575,"y2":593,"c":"ind"},{"K":14,"x":835,"x2":846,"y":501,"y2":572,"c":"grn"},{"K":14,"x":846,"x2":853,"y":501,"y2":545,"c":"gry"},{"K":14,"x":853,"x2":861,"y":501,"y2":550,"c":"dmg"},{"K":14,"x":861,"x2":869,"y":501,"y2":530,"c":"olv"},{"K":14,"x":866,"x2":869,"y":530,"y2":593,"c":"pch"},{"K":14,"x":869,"x2":873,"y":501,"y2":570,"c":"grn"},{"K":14,"x":875,"x2":878,"y":501,"y2":593,"c":"pch"},{"K":14,"x":888,"x2":896,"y":501,"y2":593,"c":"pch"},{"K":14,"x":896,"x2":901,"y":501,"y2":593,"c":"dmg"},{"K":14,"x":901,"x2":907,"y":501,"y2":540,"c":"grn"},{"K":14,"x":907,"x2":913,"y":501,"y2":555,"c":"pch"},{"K":14,"x":913,"x2":919,"y":501,"y2":530,"c":"gry"},{"K":14,"x":921,"x2":926,"y":501,"y2":550,"c":"gol"},
{"K":14,"x":930,"x2":938,"y":501,"y2":525,"c":"ldb"},{"K":14,"x":957,"x2":963,"y":501,"y2":515,"c":"ldb"},{"K":14,"x":961,"x2":964,"y":515,"y2":545,"c":"bl2"},{"K":14,"x":967,"x2":970,"y":501,"y2":555,"c":"bl2"},{"K":14,"x":982,"x2":992,"y":501,"y2":525,"c":"bl2"},{"K":14,"x":993,"x2":1001,"y":522,"y2":593,"c":"sea"},{"K":14,"x":1036,"x2":1041,"y":580,"y2":593,"c":"sea"},{"K":14,"x":1040,"x2":1043,"y":501,"y2":560,"c":"olv"},
{"K":14,"x":1052,"x2":1059,"y":513,"y2":593,"c":"gld"},{"K":14,"x":1075,"x2":1080,"y":533,"y2":593,"c":"gld"},{"K":14,"x":1075,"x2":1080,"y":533,"y2":545,"c":"olv"},{"K":14,"x":1120,"x2":1124,"y":501,"y2":593,"c":"gld"},{"K":14,"x":1120,"x2":1124,"y":580,"y2":593,"c":"dor"},{"K":14,"x":1132,"x2":1136,"y":501,"y2":593,"c":"gry"},{"K":14,"x":1147,"x2":1151,"y":501,"y2":535,"c":"slt"},{"K":14,"x":1182,"x2":1186,"y":501,"y2":510,"c":"pur"},{"K":14,"x":1196,"x2":1202,"y":501,"y2":517,"c":"pur"}
],
"bands":[{"x":99,"x2":1202,"y":181,"y2":185},{"x":99,"x2":1202,"y":391,"y2":393},{"x":99,"x2":1202,"y":495,"y2":497}],
"box":[{"x":445,"x2":831,"y":11,"y2":43}],
"title":[{"x":638,"y":25,"t":"14 geese breeds population structure"}],
"groups":[{"x":147,"y":67,"t":"Hort."},{"x":248,"y":67,"t":"Can."},{"x":302,"y":67,"t":"Egy.G"},{"x":377,"y":64,"t":"Gray."},{"x":500,"y":69,"t":"SW."},{"x":651,"y":69,"t":"Yang."},{"x":757,"y":69,"t":"Shi."},{"x":983,"y":69,"t":"Leim."},{"x":1072,"y":69,"t":"Can."},{"x":1178,"y":69,"t":"Land."}],
"ks":[{"x":49,"y":132,"t":"K= 10"},{"x":48,"y":234,"t":"K=11"},{"x":50,"y":342,"t":"K=12"},{"x":50,"y":446,"t":"K=13"},{"x":54,"y":549,"t":"K=14"}]},
"layer":[
{"data":{"name":"bars"},"mark":{"type":"rect","strokeWidth":0},"encoding":{"x":{"field":"x","type":"quantitative","scale":{"domain":[0,1202],"nice":false,"zero":false},"axis":null},"x2":{"field":"x2"},"y":{"field":"y","type":"quantitative","scale":{"domain":[593,0],"nice":false,"zero":false},"axis":null},"y2":{"field":"y2"},"color":{"field":"c","type":"nominal","legend":null,"scale":{"domain":["red","org","blu","mau","grn","stl","yel","pch","mag","cya","sea","pur","pnk","ind","gry","gmv","olv","prp","brn","dor","dkr","crm","ldb","plb","lim","sag","tcy","gld","sal","hpk","slt","lav","tgr","sgn","rdp","dpn","bl2","gol","dmg"],"range":["#ff0000","#ff9900","#0000ff","#84405f","#00ff00","#1a96bc","#ffff00","#ff9a5c","#ff00ff","#00ffff","#36967f","#b14fc0","#e931c1","#5a1fb4","#8f9080","#9b7f9f","#9a7a10","#7a2a9a","#b07a50","#e8501a","#b03010","#a0107a","#1a6ae8","#8020f0","#98e020","#90b880","#20c8d0","#f0d020","#ff8090","#f0308a","#6a80a8","#9a80f0","#50a0c0","#109a70","#e0205a","#d03090","#3060c8","#d0a030","#d010c8"]}}}},
{"data":{"name":"bands"},"mark":{"type":"rect","color":"#303030","opacity":0.3,"strokeWidth":0},"encoding":{"x":{"field":"x","type":"quantitative"},"x2":{"field":"x2"},"y":{"field":"y","type":"quantitative"},"y2":{"field":"y2"}}},
{"data":{"name":"box"},"mark":{"type":"rect","fill":"white","stroke":"#111111","strokeWidth":2},"encoding":{"x":{"field":"x","type":"quantitative"},"x2":{"field":"x2"},"y":{"field":"y","type":"quantitative"},"y2":{"field":"y2"}}},
{"data":{"name":"title"},"mark":{"type":"text","font":"Liberation Serif","fontWeight":"bold","fontSize":24.4,"align":"center","baseline":"middle","color":"#000000"},"encoding":{"x":{"field":"x","type":"quantitative"},"y":{"field":"y","type":"quantitative"},"text":{"field":"t"}}},
{"data":{"name":"groups"},"mark":{"type":"text","font":"Liberation Serif","fontWeight":"bold","fontSize":14.5,"align":"center","baseline":"middle","color":"#111111"},"encoding":{"x":{"field":"x","type":"quantitative"},"y":{"field":"y","type":"quantitative"},"text":{"field":"t"}}},
{"data":{"name":"ks"},"mark":{"type":"text","font":"Liberation Serif","fontWeight":"bold","fontSize":29.5,"align":"center","baseline":"middle","color":"#000000"},"encoding":{"x":{"field":"x","type":"quantitative"},"y":{"field":"y","type":"quantitative"},"text":{"field":"t"}}}
]}
